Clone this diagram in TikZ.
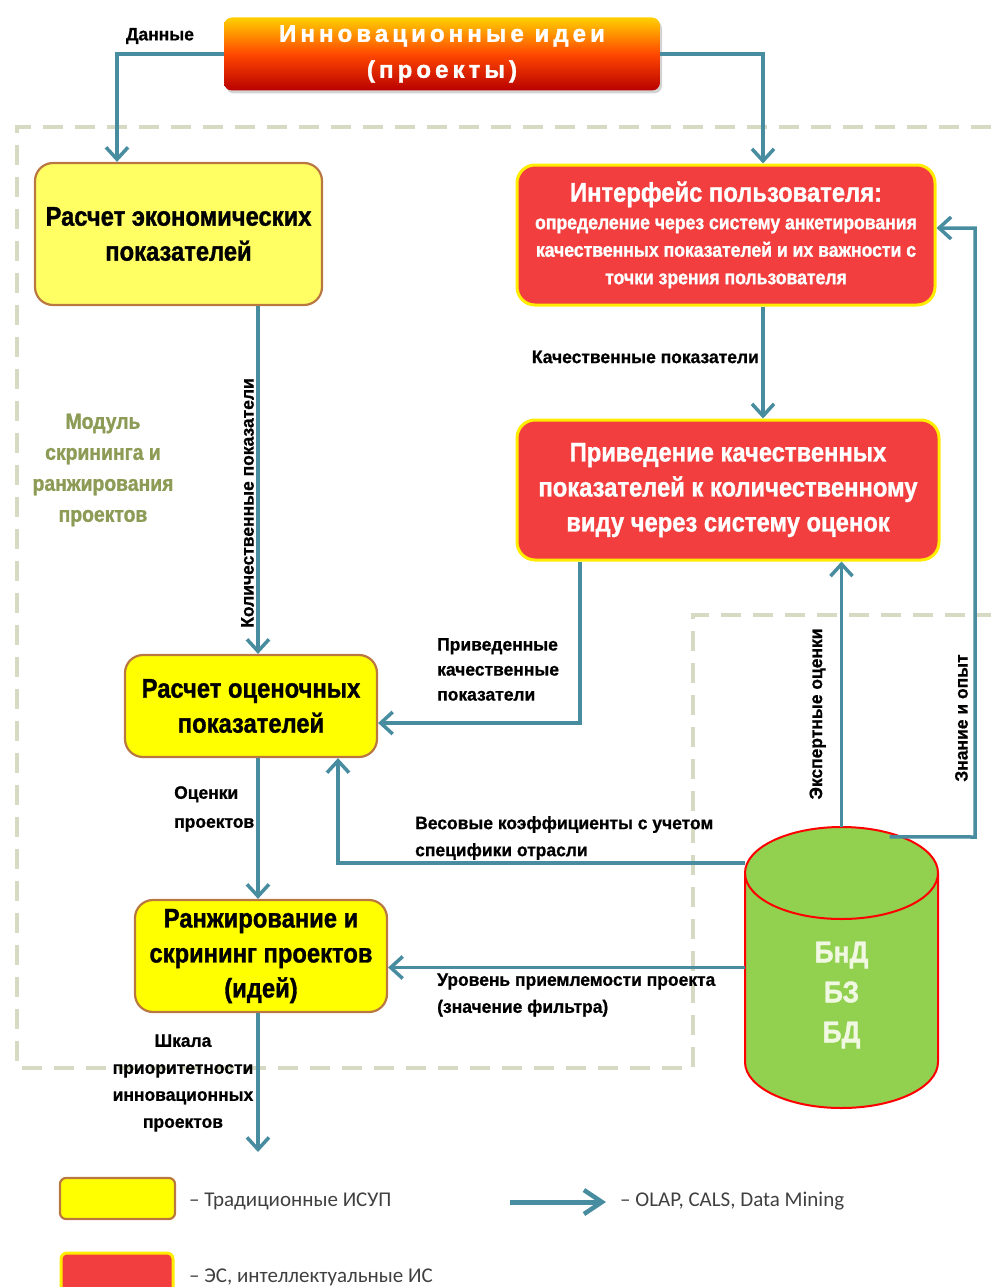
\documentclass[tikz,border=0pt]{standalone}
\usepackage{fontspec}
\setmainfont{Liberation Sans}
\newfontfamily\boxfont[FakeStretch=0.88,UprightFont=*,BoldFont=* Bold,BoldFeatures={FakeBold=1.2}]{Liberation Sans}
\newfontfamily\lblfont[FakeStretch=0.97,UprightFont=*,BoldFont=* Bold,BoldFeatures={FakeBold=0.8}]{Liberation Sans}
\newfontfamily\ideafont[LetterSpace=17,UprightFont=*,BoldFont=* Bold,BoldFeatures={FakeBold=1.5}]{Liberation Sans}
\newfontfamily\legfont{Carlito}
\usetikzlibrary{arrows.meta,shadows}
\definecolor{flowc}{RGB}{72,140,160}
\definecolor{boxyel}{RGB}{255,255,0}
\definecolor{paleyel}{RGB}{255,255,100}
\definecolor{yelrim}{RGB}{185,120,65}
\definecolor{boxred}{RGB}{242,62,62}
\definecolor{redrim}{RGB}{255,236,0}
\definecolor{dbgreen}{RGB}{146,208,80}
\definecolor{dbtext}{RGB}{240,248,225}
\definecolor{zonec}{RGB}{214,218,194}
\definecolor{modc}{RGB}{140,155,85}
\definecolor{legtext}{RGB}{64,64,64}
\tikzset{
  flow/.style={draw=flowc,line width=3.5pt,-{Straight Barb[length=12pt,width=22pt]}},
  yelbox/.style={draw=yelrim,line width=2.2pt,fill=boxyel,rounded corners=18pt,align=center,
    font=\boxfont\bfseries\fontsize{27}{35}\selectfont},
  redbox/.style={draw=redrim,line width=3pt,fill=boxred,rounded corners=18pt,align=center,text=white,
    font=\boxfont\bfseries\fontsize{27}{35}\selectfont},
  lbl/.style={font=\lblfont\bfseries\fontsize{18}{27}\selectfont,inner sep=0pt,align=left},
  zone/.style={draw=zonec,line width=4pt,dash pattern=on 20pt off 12pt}
}
\begin{document}
\begin{tikzpicture}[x=1pt,y=-1pt]
\useasboundingbox (0,0) rectangle (991,1287);
% module frame
\draw[zone] (991,127)--(17,127)--(17,1068)--(693,1068)--(693,615)--(991,615);
\node[font=\boxfont\bfseries\fontsize{22}{31}\selectfont,text=modc,align=center] (modlbl) at (103,470) {Модуль\\скрининга и\\ранжирования\\проектов};
% boxes
\node[rounded corners=8pt,top color={rgb,255:red,255;green,208;blue,0},bottom color={rgb,255:red,185;green,0;blue,0},middle color={rgb,255:red,255;green,72;blue,0},
  drop shadow={shadow xshift=2pt,shadow yshift=-3pt,opacity=.35},minimum width=436pt,minimum height=73pt,text=white,
  font=\ideafont\bfseries\fontsize{24}{36}\selectfont,align=center] (ideas) at (442,54) {Инновационные идеи\\(проекты)};
\node[yelbox,fill=paleyel,minimum width=287pt,minimum height=142pt] (econ) at (178.5,234) {Расчет экономических\\показателей};
\node[redbox,minimum width=418pt,minimum height=140pt,font=\boxfont\bfseries\fontsize{20}{27.5}\selectfont] (iface) at (726,235)
  {{\fontsize{27}{30}\selectfont Интерфейс пользователя:}\\определение через систему анкетирования\\качественных показателей и их важности с\\точки зрения пользователя};
\node[redbox,minimum width=422pt,minimum height=140pt] (convert) at (728,490) {Приведение качественных\\показателей к количественному\\виду через систему оценок};
\node[yelbox,minimum width=252pt,minimum height=102pt] (calc) at (251,706) {Расчет оценочных\\показателей};
\node[yelbox,minimum width=252pt,minimum height=112pt] (rank) at (261,956) {Ранжирование и\\скрининг проектов\\(идей)};
% data store
\fill[dbgreen] (745,873)--(745,1062) arc[start angle=180,end angle=0,x radius=96.5,y radius=46]--(938,873)--cycle;
\draw[red,line width=2pt] (745,873)--(745,1062) arc[start angle=180,end angle=0,x radius=96.5,y radius=46]--(938,873);
\filldraw[fill=dbgreen,draw=red,line width=2pt] (841.5,873) ellipse[x radius=96.5,y radius=46];
\node[minimum width=193pt,minimum height=281pt,inner sep=0pt] (db) at (841.5,967.5) {};
\node[font=\boxfont\bfseries\fontsize{30}{40}\selectfont,text=dbtext,align=center] (dbtxt) at (841.5,995) {БнД\\БЗ\\БД};
% labels
\node[lbl] (datalbl) at (160,36) {Данные};
\node[lbl,rotate=90,anchor=south] (qntlbl) at (254,503) {Количественные показатели};
\node[lbl,anchor=east] (qltlbl) at (759,357) {Качественные показатели};
\node[lbl,anchor=north west,font=\lblfont\bfseries\fontsize{18}{25}\selectfont] (redlbl) at (437,638) {Приведенные\\качественные\\показатели};
\node[lbl,rotate=90,anchor=south] (explbl) at (826,714) {Экспертные оценки};
\node[lbl,rotate=90,anchor=south] (knowlbl) at (968,718) {Знание и опыт};
\node[lbl,anchor=north west,font=\lblfont\bfseries\fontsize{18}{29}\selectfont] (estlbl) at (174,786) {Оценки\\проектов};
\node[lbl,anchor=west] (wgtlbl) at (415,838) {Весовые коэффициенты с учетом\\специфики отрасли};
\node[lbl,anchor=west] (lvllbl) at (437,995) {Уровень приемлемости проекта\\(значение фильтра)};
\node[lbl,align=center] (scalelbl) at (183,1083) {Шкала\\приоритетности\\инновационных\\проектов};
% connectors
\coordinate (out) at (258,1152);
\draw[flow] (ideas.west) -| (117,0 |- econ.north);
\draw[flow] (ideas.east) -| (763,0 |- iface.north);
\draw[flow] (258,0 |- econ.south) -- (258,0 |- calc.north);
\draw[flow] (763,0 |- iface.south) -- (763,0 |- convert.north);
\draw[flow] (580,0 |- convert.south) |- ([yshift=-17pt]calc.east);
\draw[flow] (258,0 |- calc.south) -- (258,0 |- rank.north);
\draw[flow] (258,0 |- rank.south) -- (out);
\draw[flow] (db.north) -- (db.north |- convert.south);
\draw[flow] ([shift={(48,10)}]db.north) -- (975,837) |- ([yshift=7pt]iface.east);
\draw[flow] ([yshift=104.5pt]db.west) -| (338,0 |- calc.south);
\draw[flow] (db.west) -- (db.west -| rank.east);
% legend
\node[draw=yelrim,line width=2.2pt,fill=boxyel,rounded corners=6pt,minimum width=115pt,minimum height=41pt] (legyel) at (117.5,1198.5) {};
\node[font=\legfont\fontsize{21}{25}\selectfont,text=legtext,anchor=west,inner sep=0pt] (legyeltxt) at (189,1201) {– Традиционные ИСУП};
\coordinate (legA) at (510,1202);
\coordinate (legB) at (606,1202);
\draw[flow,line width=5pt,-{Straight Barb[length=18pt,width=24pt,line width=4.5pt]}] (legA) -- (legB);
\node[font=\legfont\fontsize{21}{25}\selectfont,text=legtext,anchor=west,inner sep=0pt] (legarrtxt) at (620,1201) {– OLAP, CALS, Data Mining};
\node[draw=redrim,line width=3pt,fill=boxred,rounded corners=6pt,minimum width=112pt,minimum height=42pt] (legred) at (117,1274) {};
\node[font=\legfont\fontsize{21}{25}\selectfont,text=legtext,anchor=west,inner sep=0pt] (legredtxt) at (189,1277) {– ЭС, интеллектуальные ИС};
\end{tikzpicture}
\end{document}
